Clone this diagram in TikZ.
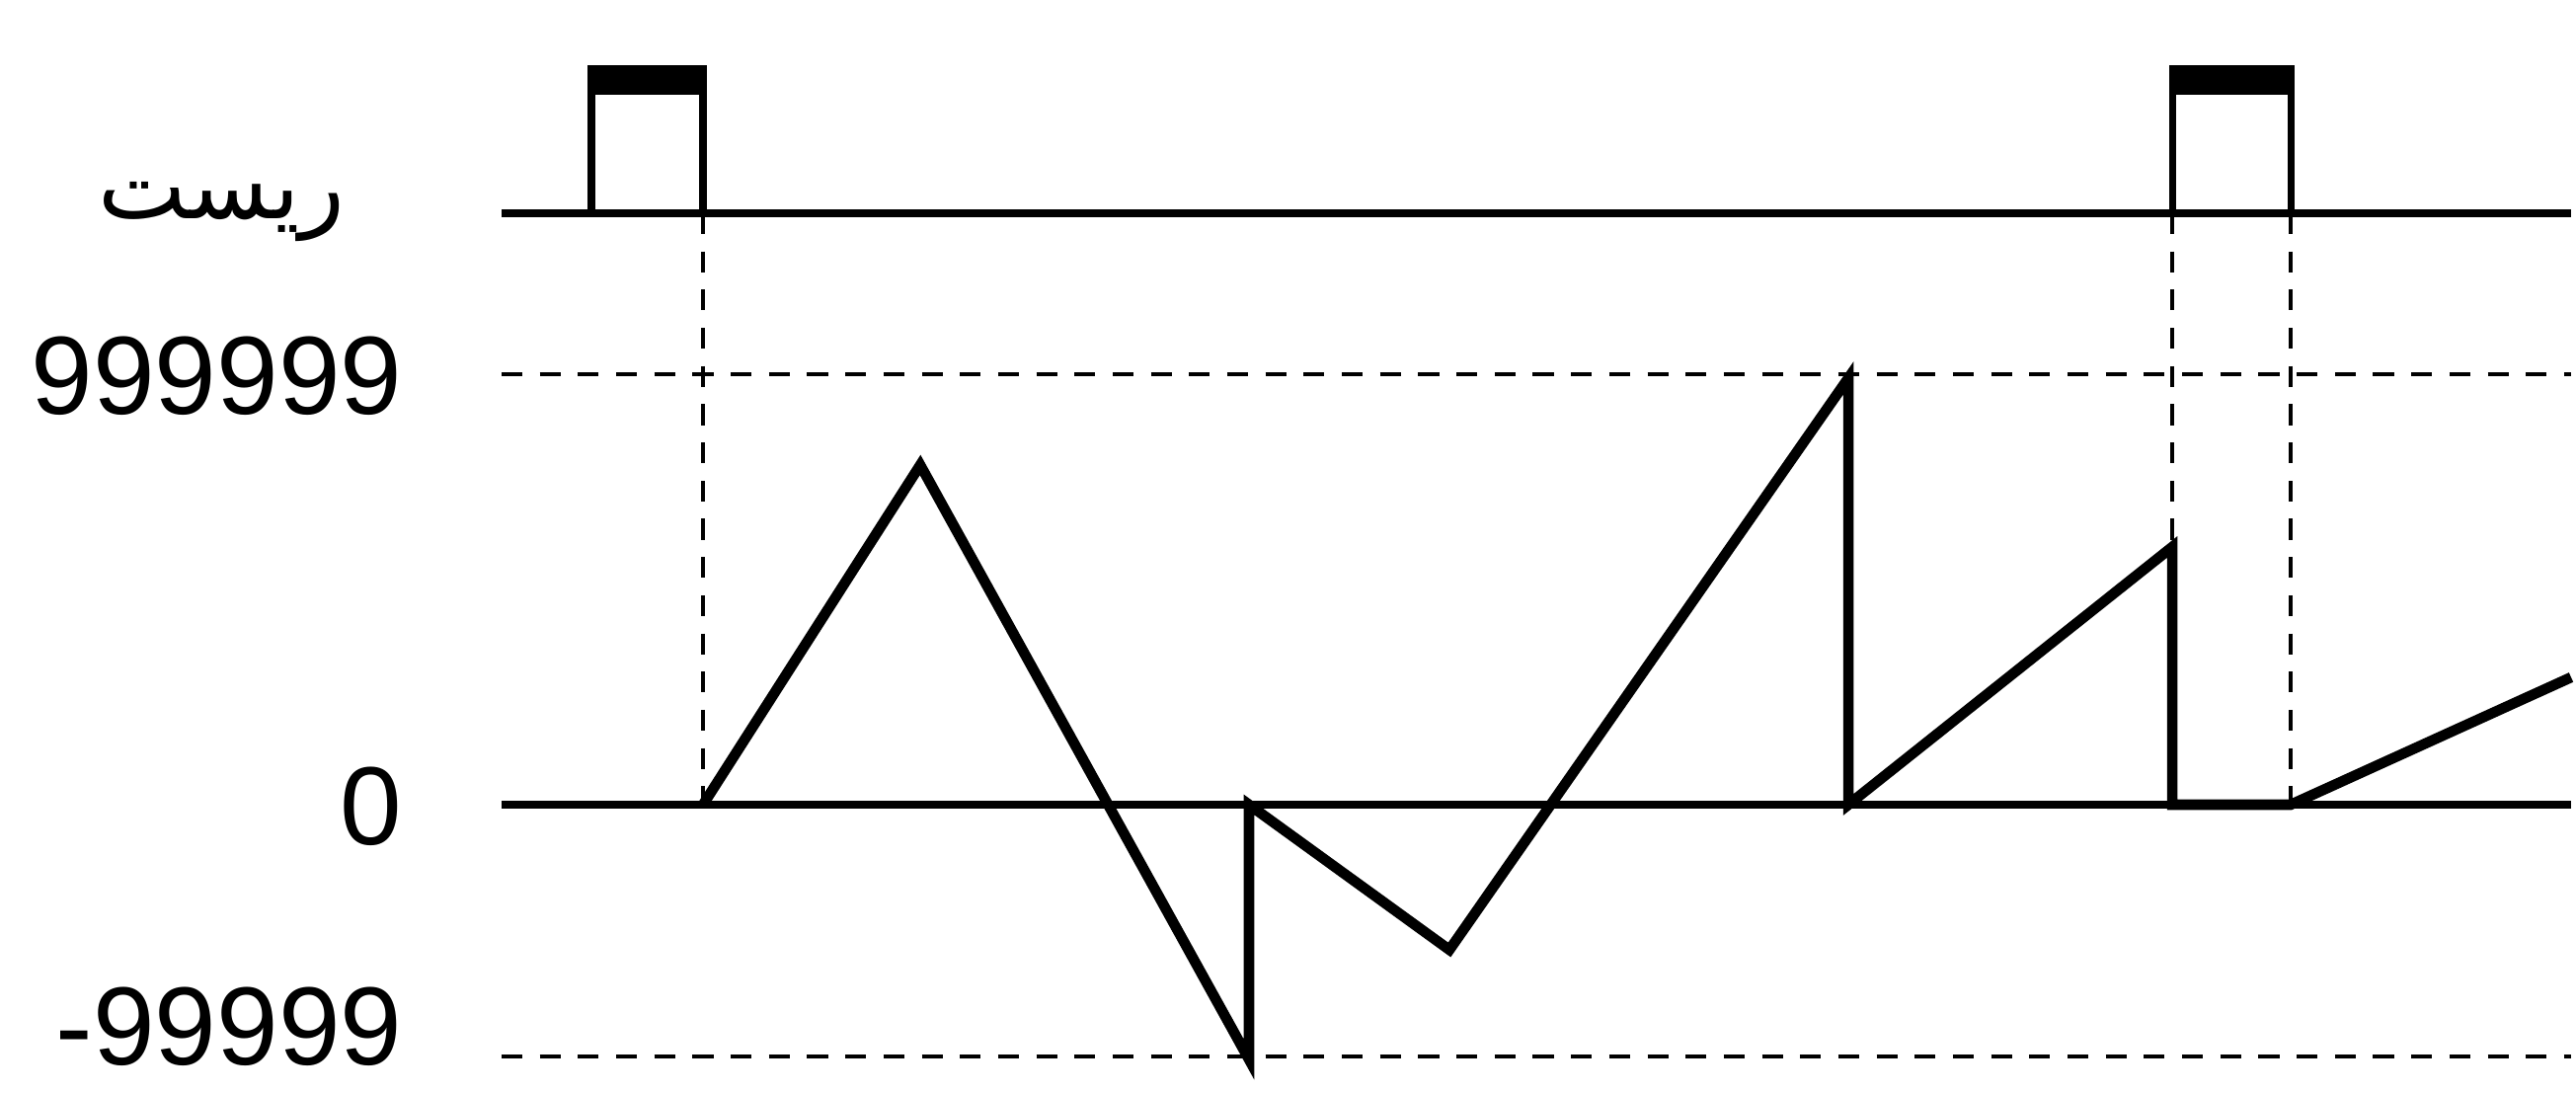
\documentclass[tikz,border=0pt]{standalone}
\usepackage{fontspec}
\setmainfont{Liberation Sans}
\newfontfamily\arabicfont[Script=Arabic]{DejaVu Sans}
\TeXXeTstate=1

\tikzset{
  lbl/.style={font=\fontsize{32}{36}\selectfont, inner sep=0pt},
  axis/.style={line width=2pt},
  guide/.style={line width=0.9pt, dash pattern=on 6pt off 5pt},
  wave/.style={line width=3pt, line join=miter}
}

\begin{document}
\begin{tikzpicture}[x=0.01cm, y=-0.01cm]
  \useasboundingbox (0,0) rectangle (2609,1107);
  % levels
  \draw [axis] (508,216) -- (2604,216);
  \draw [axis] (508,815) -- (2604,815);
  \draw [guide] (508,379) -- (2604,379);
  \draw [guide] (508,1070) -- (2604,1070);
  % reset pulses
  \foreach \a/\b in {599/712, 2200/2320} {
    \draw [axis] (\a,216) -- (\a,70) -- (\b,70) -- (\b,216);
    \fill (\a,68) rectangle (\b,96);
  }
  \foreach \x in {712, 2200, 2320}
    \draw [guide] (\x,216) -- (\x,815);
  % counter value
  \draw [wave] (712,815) -- (932,471) -- (1265,1073) -- (1265,815)
    -- (1468,962) -- (1872,383) -- (1872,815) -- (2200,554)
    -- (2200,815) -- (2320,815) -- (2604,686);
  % labels
  \node [lbl, font=\fontsize{27}{30}\selectfont, anchor=base east] (reset)
    at (350,222) {\arabicfont\beginR ریست\endR};
  \node [lbl, anchor=east] (vmax) at (408,381) {999999};
  \node [lbl, anchor=east] (vzero) at (408,817) {0};
  \node [lbl, anchor=base east] (vmin) at (408,1078) {-99999};
\end{tikzpicture}
\end{document}
